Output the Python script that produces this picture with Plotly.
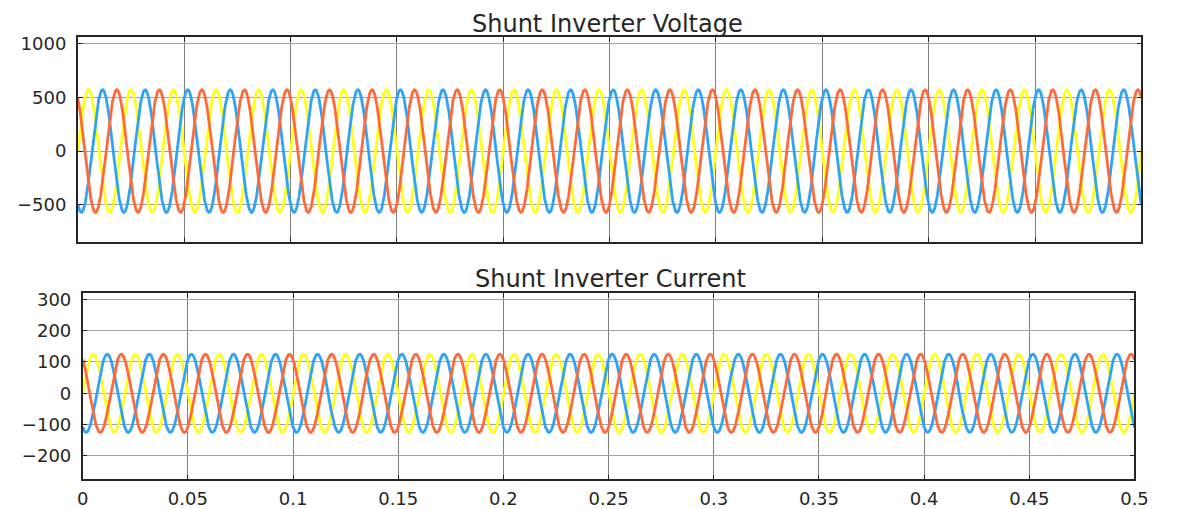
import numpy as np
import plotly.graph_objects as go

# ---- values ----
t_start, t_end = 0.0, 0.5            # seconds
frequency_hz = 50                     # one peak of each phase every 0.02 s
phase_names = ["Phase A", "Phase B", "Phase C"]
phase_deg = [0, -120, 120]            # yellow, blue, red
voltage_peak = 570                    # V, top panel
current_peak = 125                    # A, bottom panel
phase_colors = ["#FFFF1A", "#2FA4F5", "#FF6A3A"]

x_ticks = [0, 0.05, 0.1, 0.15, 0.2, 0.25, 0.3, 0.35, 0.4, 0.45, 0.5]
x_tick_text = ["0", "0.05", "0.1", "0.15", "0.2", "0.25", "0.3", "0.35", "0.4", "0.45", "0.5"]
v_ticks = [-500, 0, 500, 1000]
i_ticks = [-200, -100, 0, 100, 200, 300]
v_range = [-846, 1055]
i_range = [-275, 319]
titles = ["Shunt Inverter Voltage", "Shunt Inverter Current"]

t = np.linspace(t_start, t_end, 6001)

fig = go.Figure()
for name, ph, col in zip(phase_names, phase_deg, phase_colors):
    v = voltage_peak * np.sin(2 * np.pi * frequency_hz * t + np.deg2rad(ph))
    fig.add_trace(go.Scatter(x=t, y=v, mode="lines", name=name,
                             line=dict(color=col, width=2.8),
                             xaxis="x", yaxis="y", showlegend=False))
for name, ph, col in zip(phase_names, phase_deg, phase_colors):
    i = current_peak * np.sin(2 * np.pi * frequency_hz * t + np.deg2rad(ph))
    fig.add_trace(go.Scatter(x=t, y=i, mode="lines", name=name,
                             line=dict(color=col, width=2.8),
                             xaxis="x2", yaxis="y2", showlegend=False))

font_family = "DejaVu Sans, Liberation Sans, Arial"
tick_font = dict(family=font_family, size=18, color="#262626")

common_x = dict(range=[t_start, t_end], tickvals=x_ticks, ticktext=x_tick_text,
                showgrid=True, gridcolor="#808080", gridwidth=1,
                showline=True, linecolor="#262626", linewidth=1.5, mirror="allticks",
                ticks="inside", ticklen=5, tickcolor="#262626",
                zeroline=False, tickfont=tick_font)
common_y = dict(showgrid=True, gridcolor="#a0a0a0", gridwidth=1,
                showline=True, linecolor="#262626", linewidth=1.5, mirror="allticks",
                ticks="inside", ticklen=5, tickcolor="#262626",
                zeroline=False, tickfont=tick_font, ticklabelstandoff=6)

W, H = 1177, 509
fig.update_layout(
    width=W, height=H,
    margin=dict(l=0, r=0, t=0, b=0),
    paper_bgcolor="white", plot_bgcolor="white",
    xaxis=dict(common_x, domain=[73 / W, 1155 / W], anchor="y", showticklabels=False),
    yaxis=dict(common_y, domain=[(H - 241) / H, (H - 33) / H], anchor="x",
               range=v_range, tickvals=v_ticks),
    xaxis2=dict(common_x, domain=[78 / W, 1148 / W], anchor="y2", ticklabelstandoff=2),
    yaxis2=dict(common_y, domain=[(H - 482) / H, (H - 293) / H], anchor="x2",
                range=i_range, tickvals=i_ticks),
    annotations=[
        dict(text=titles[0], x=612 / W, y=(H - 19) / H, xref="paper", yref="paper",
             xanchor="center", yanchor="middle", showarrow=False,
             font=dict(family=font_family, size=24, color="#262626")),
        dict(text=titles[1], x=615 / W, y=(H - 278) / H, xref="paper", yref="paper",
             xanchor="center", yanchor="middle", showarrow=False,
             font=dict(family=font_family, size=24, color="#262626")),
    ],
)

fig.write_html("out.html")
